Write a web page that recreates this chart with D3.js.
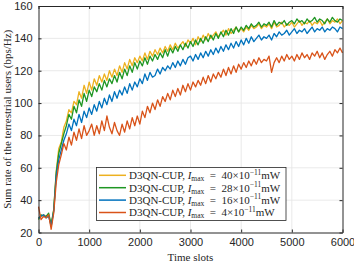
<!DOCTYPE html>
<html>
<head>
<meta charset="utf-8">
<script src="https://cdn.jsdelivr.net/npm/d3@7"></script>
<style>
    body { margin: 0; background: #fff; }
    svg { display: block; font-family: "Liberation Serif", "Times New Roman", serif; }
    .axis path, .axis line { stroke: #262626; }
    .axis text { fill: #262626; font-size: 11px; }
    .grid line { stroke: #e3e3e3; stroke-width: 0.8; }
</style>
</head>
<body>
<svg width="354" height="266"></svg>
<script>
// sampled every 50 time slots, 0 .. 6000
var slotStep = 50;

var yellowVals = [29,30,31,30,31,24,34,58,72,76,
    85,89,96,94,101,99,107,103,111,106,
    113,108,115,111,117,113,118,114,120,116,
    121,117,123,119,125,121,127,123,128,125,
    129,126,131,127,132,129,133,130,134,131,
    135,132,136,133,137,134,136,138,135,139,
    137,140,136,141,138,142,139,143,140,142,
    144,141,143,145,142,146,143,145,147,144,
    146,144,147,145,148,146,147,149,146,148,
    147,149,146,150,147,148,150,147,149,148,
    150,147,149,151,148,150,149,151,148,150,
    149,151,148,150,152,149,151,150,152,149,151];

var greenVals = [28,31,30,30,32,25,34,57,69,75,
    81,86,93,90,98,94,102,98,106,101,
    108,104,110,107,112,108,114,110,115,112,
    117,113,119,115,121,117,123,119,125,121,
    126,123,128,124,129,126,130,127,131,128,
    133,129,134,131,135,132,136,133,137,134,
    138,135,139,136,140,137,141,138,142,139,
    143,140,144,141,145,142,146,143,147,144,
    147,145,148,146,149,147,148,150,147,149,
    148,150,147,151,148,150,149,151,148,150,
    151,149,152,150,151,149,152,150,151,153,
    150,152,151,149,152,150,153,151,150,152,151];

var blueVals = [29,30,31,29,30,24,33,55,65,71,
    77,81,87,83,90,86,93,88,95,91,
    97,93,99,95,101,97,103,99,105,101,
    107,103,108,105,110,106,112,108,113,110,
    115,112,118,114,119,116,117,121,118,122,
    120,123,121,125,122,126,123,127,124,128,
    129,126,130,127,131,128,132,129,133,130,
    134,131,135,132,136,133,137,134,138,135,
    139,136,140,137,141,138,140,142,139,141,
    140,142,139,143,141,144,142,143,145,142,
    144,146,143,145,144,146,143,145,147,144,
    146,145,147,144,146,145,147,146,144,147,146];

var redVals = [36,28,30,29,31,22,32,51,62,68,
    75,71,79,74,82,77,84,78,86,80,
    83,87,80,86,81,89,83,92,85,81,
    88,83,80,87,82,89,84,91,86,92,
    87,95,91,98,94,100,96,102,98,104,
    101,106,102,108,104,109,105,111,107,112,
    108,113,110,114,111,116,112,117,113,118,
    115,119,116,121,117,122,118,123,119,124,
    121,125,122,126,123,127,124,128,125,127,
    126,129,119,125,128,125,129,126,130,127,
    129,126,130,127,131,128,130,127,131,129,
    132,128,131,127,130,132,129,133,131,134,131];

var seriesNames = ["40", "28", "16", "4"];
var seriesColors = ["#EDB120", "#1E9623", "#0072BD", "#D95319"];
var xTicks = [0, 1000, 2000, 3000, 4000, 5000, 6000];
var yTicks = [20, 40, 60, 80, 100, 120, 140, 160];

(function () {
    var svg = d3.select("svg"),
        margin = {top: 6, right: 11.5, bottom: 33.5, left: 38.5},
        width = svg.attr("width") - margin.left - margin.right,
        height = svg.attr("height") - margin.top - margin.bottom,
        g = svg.append("g").attr("transform", "translate(" + margin.left + "," + margin.top + ")");

    var x = d3.scaleLinear().domain([0, 6000]).range([0, width]),
        y = d3.scaleLinear().domain([20, 160]).range([height, 0]);

    var series = [yellowVals, greenVals, blueVals, redVals].map(function (vals, i) {
        return {
            name: seriesNames[i],
            color: seriesColors[i],
            values: vals.map(function (v, j) { return {slot: j * slotStep, rate: v}; })
        };
    });

    // grid
    g.append("g").attr("class", "grid")
        .selectAll("line").data(xTicks.slice(1, -1)).enter().append("line")
        .attr("x1", function (d) { return x(d); }).attr("x2", function (d) { return x(d); })
        .attr("y1", 0).attr("y2", height);
    g.append("g").attr("class", "grid")
        .selectAll("line").data(yTicks.slice(1, -1)).enter().append("line")
        .attr("y1", function (d) { return y(d); }).attr("y2", function (d) { return y(d); })
        .attr("x1", 0).attr("x2", width);

    var line = d3.line()
        .x(function (d) { return x(d.slot); })
        .y(function (d) { return y(d.rate); });

    g.selectAll(".curve").data(series).enter().append("path")
        .attr("class", "curve")
        .attr("d", function (d) { return line(d.values); })
        .attr("fill", "none")
        .attr("stroke", function (d) { return d.color; })
        .attr("stroke-width", 1.3)
        .attr("stroke-linejoin", "round");

    // axes, ticks pointing inwards
    g.append("g").attr("class", "axis")
        .attr("transform", "translate(0," + height + ")")
        .call(d3.axisBottom(x).tickValues(xTicks).tickFormat(d3.format("d")).tickSizeInner(-3).tickSizeOuter(0).tickPadding(6));
    g.append("g").attr("class", "axis")
        .call(d3.axisTop(x).tickValues(xTicks).tickFormat("").tickSizeInner(-3).tickSizeOuter(0));
    g.append("g").attr("class", "axis")
        .call(d3.axisLeft(y).tickValues(yTicks).tickFormat(d3.format("d")).tickSizeInner(-3).tickSizeOuter(0).tickPadding(6));
    g.append("g").attr("class", "axis")
        .attr("transform", "translate(" + width + ",0)")
        .call(d3.axisRight(y).tickValues(yTicks).tickFormat("").tickSizeInner(-3).tickSizeOuter(0));

    // axis titles
    svg.append("text")
        .attr("x", margin.left + width / 2).attr("y", 261)
        .attr("text-anchor", "middle").attr("fill", "#262626")
        .style("font-size", "11px")
        .text("Time slots");
    svg.append("text")
        .attr("transform", "translate(11," + (margin.top + height / 2) + ") rotate(-90)")
        .attr("text-anchor", "middle").attr("fill", "#262626")
        .style("font-size", "11px")
        .text("Sum rate of the terrestrial users (bps/Hz)");

    // legend
    var legend = svg.append("g").attr("transform", "translate(96.5,167.5)");
    legend.append("rect")
        .attr("width", 189.5).attr("height", 53)
        .attr("fill", "#fff").attr("stroke", "#262626").attr("stroke-width", 0.8);

    var item = legend.selectAll(".item").data(series).enter().append("g")
        .attr("class", "item")
        .attr("transform", function (d, i) { return "translate(0," + (7.8 + i * 12.4) + ")"; });
    item.append("line")
        .attr("x1", 2.5).attr("x2", 29.5)
        .attr("stroke", function (d) { return d.color; }).attr("stroke-width", 1.5);
    var t = item.append("text")
        .attr("x", 32.5).attr("dy", "0.35em")
        .attr("fill", "#262626").style("font-size", "11px");
    t.append("tspan").text("D3QN-CUP, ");
    t.append("tspan").style("font-style", "italic").text("I");
    t.append("tspan").attr("dy", 2).style("font-size", "7.5px").text("max");
    t.append("tspan").attr("dy", -2).text(function (d) { return "\u2002=\u2002" + d.name + "\u00d710"; });
    t.append("tspan").attr("dy", -4.5).style("font-size", "7.5px").text("\u221211");
    t.append("tspan").attr("dy", 4.5).text("mW");
})();
</script>
</body>
</html>
